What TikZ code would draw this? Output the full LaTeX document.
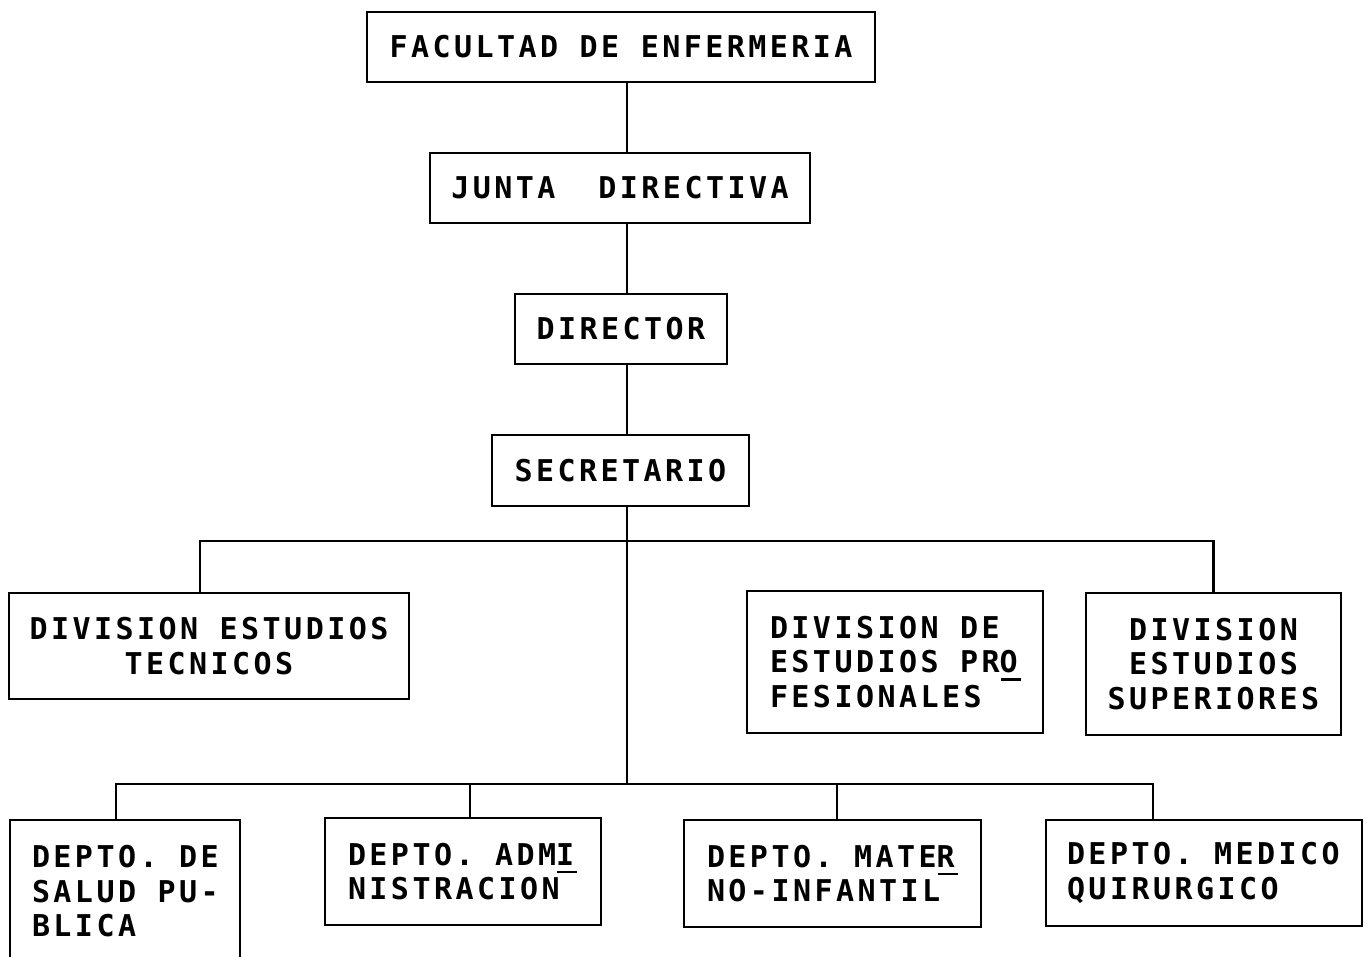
\documentclass[tikz,border=0pt]{standalone}
\usepackage{fontspec}
\newfontfamily\typew[LetterSpace=11.5]{DejaVu Sans Mono Bold}
\newcommand\ulast[1]{\rlap{\kern1pt\rule[-8pt]{20pt}{2.5pt}}#1}
\newcommand\gap{\hspace*{21.5pt}}
\newcommand\twfont{\typew\fontsize{30pt}{34.5pt}\selectfont\frenchspacing\spaceskip 21.5pt\relax}
\begin{document}
\begin{tikzpicture}[x=1pt,y=-1pt,
  every node/.style={font=\twfont},
  box/.style={draw,line width=2.2pt,inner sep=0pt},
  conn/.style={line width=2.2pt}]
\useasboundingbox (0,0) rectangle (1371,957);
\fill[white] (0,0) rectangle (1371,957);
\begin{scope}
\clip (0,0) rectangle (1371,957);
\node[box,minimum width=508pt,minimum height=70pt] (fac) at (621,47) {FACULTAD\gap DE\gap ENFERMERIA};
\node[box,minimum width=380pt,minimum height=70pt] (junta) at (620,188) {JUNTA\gap\gap DIRECTIVA};
\node[box,minimum width=212pt,minimum height=70pt] (dir) at (621,329) {DIRECTOR};
\node[box,minimum width=257pt,minimum height=71pt] (sec) at (620.5,470.5) {SECRETARIO};
\node[box,minimum width=400pt,minimum height=106pt,align=center] (tec) at (209,646) {DIVISION\gap ESTUDIOS\\TECNICOS};
\node[box,minimum width=296pt,minimum height=142pt,text width=250pt,inner xsep=23pt,align=left] (pro) at (895,662) {\mbox{DIVISION\gap DE}\\\mbox{ESTUDIOS\gap PR\ulast{O}}\\FESIONALES};
\node[box,minimum width=255pt,minimum height=142pt,align=center] (sup) at (1213.5,664) {DIVISION\\ESTUDIOS\\SUPERIORES};
\node[box,minimum width=230pt,minimum height=170pt,text width=186pt,inner xsep=22pt,align=left,anchor=north] (salud) at (125,819) {\rule{0pt}{0pt}\\[-39.5pt]\mbox{DEPTO.\gap DE}\\\mbox{SALUD\gap PU-}\\\mbox{BLICA}\\[25pt]};
\node[box,minimum width=276pt,minimum height=107pt,text width=230pt,inner xsep=23pt,align=left] (admi) at (463,871.5) {\mbox{DEPTO.\gap ADM\ulast{I}}\\NISTRACION};
\node[box,minimum width=297pt,minimum height=107pt,text width=251pt,inner xsep=23pt,align=left] (mater) at (832.5,873.5) {\mbox{DEPTO.\gap MATE\ulast{R}}\\\mbox{NO-INFANTIL}};
\node[box,minimum width=316pt,minimum height=106pt,text width=274pt,inner xsep=21pt,align=left] (medico) at (1204,873) {\mbox{DEPTO.\gap MEDICO}\\QUIRURGICO};
\end{scope}
\coordinate (spine) at (627,0);
\coordinate (b1) at (627,541);
\coordinate (b2) at (627,784);
\draw[conn] (fac.south -| spine) -- (junta.north -| spine);
\draw[conn] (junta.south -| spine) -- (dir.north -| spine);
\draw[conn] (dir.south -| spine) -- (sec.north -| spine);
\draw[conn] (sec.south -| spine) -- (b2);
\draw[conn] ([xshift=-9pt]tec.north) |- (b1) -| (sup.north);
\draw[conn] ([xshift=-9pt]salud.north) |- (b2) -| ([xshift=-51pt]medico.north);
\draw[conn] ([xshift=7pt]admi.north) -- ([xshift=7pt]admi.north |- b2);
\draw[conn] ([xshift=4.5pt]mater.north) -- ([xshift=4.5pt]mater.north |- b2);
\end{tikzpicture}
\end{document}
